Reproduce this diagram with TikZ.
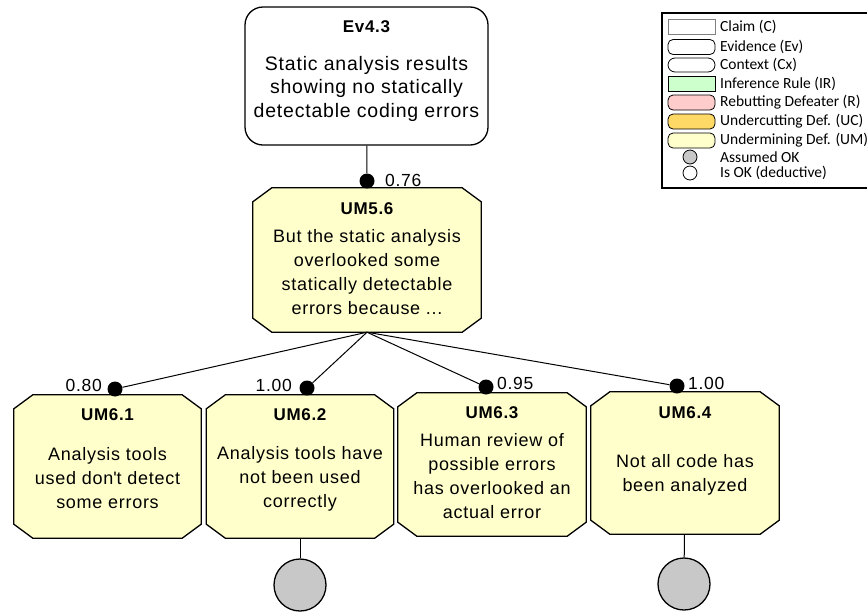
\documentclass[tikz,border=0pt]{standalone}
\usepackage{fontspec}
\setmainfont[LetterSpace=4]{Liberation Sans}
\newfontfamily\legendfont{Carlito}

\definecolor{umfill}{HTML}{FFFFCC}
\definecolor{ucfill}{HTML}{FFD966}
\definecolor{rfill}{HTML}{FFCCCC}
\definecolor{irfill}{HTML}{CCFFCC}
\definecolor{okgray}{HTML}{C8C8C8}

\tikzset{
  edge/.style={line width=1pt},
  evbox/.style={rectangle, rounded corners=18pt, draw, line width=1.3pt, fill=white,
    minimum width=243pt, minimum height=138pt},
  umbox/.style={rectangle, inner sep=0pt, minimum width=187pt, minimum height=143pt},
  umline/.style={draw, line width=1.3pt, fill=umfill, line join=miter},
  ttl/.style={font=\bfseries\fontsize{17}{20}\selectfont, inner sep=0pt},
  body/.style={font=\fontsize{18}{24}\selectfont, align=center, inner sep=0pt},
  num/.style={font=\fontsize{17.5}{20}\selectfont, inner sep=0pt},
  dot/.style={circle, fill=black, inner sep=0pt, minimum size=15pt},
  okdot/.style={circle, draw, line width=1.3pt, fill=okgray, minimum size=52pt},
  legtxt/.style={font=\legendfont\fontsize{15.5}{18}\selectfont, anchor=west, inner sep=0pt},
  legshape/.style={draw, line width=0.8pt, minimum width=47pt, minimum height=15pt, inner sep=0pt},
}

\begin{document}
\begin{tikzpicture}[x=1pt,y=-1pt]
\useasboundingbox (0,0) rectangle (867,611);

% evidence
\node[evbox] (ev43) at (366.5,76) {};
\node[ttl] (ev43t) at (366.5,27) {Ev4.3};
\node[body, font=\fontsize{19.5}{23.5}\selectfont] (ev43b) at (366.5,88.5)
  {Static analysis results\\showing no statically\\detectable coding errors};

% undermining defeaters (outline drawn from the anchors)
\node[umbox, minimum width=228pt, minimum height=144pt] (um56) at (367,260) {};
\node[umbox] (um61) at (107.5,466.5) {};
\node[umbox] (um62) at (300,466.5) {};
\node[umbox, minimum width=188pt] (um63) at (492,464.5) {};
\node[umbox, minimum width=188pt, minimum height=142pt] (um64) at (685,463) {};

\foreach \n in {um56,um61,um62,um63,um64}
{ \path[umline] ([xshift=19pt]\n.north west) -- ([xshift=-19pt]\n.north east)
    -- ([yshift=-14pt]\n.north east) -- ([yshift=14pt]\n.south east)
    -- ([xshift=-19pt]\n.south east) -- ([xshift=19pt]\n.south west)
    -- ([yshift=14pt]\n.south west) -- ([yshift=-14pt]\n.north west) -- cycle; }

\node[ttl] (um56t) at (367,209) {UM5.6};
\node[body] (um56b) at (367,272)
  {But the static analysis\\overlooked some\\statically detectable\\errors because ...};

\node[ttl] (um61t) at (107.5,415) {UM6.1};
\node[ttl] (um62t) at (300,415) {UM6.2};
\node[ttl] (um63t) at (492,413) {UM6.3};
\node[ttl] (um64t) at (685,413) {UM6.4};

\node[body] (um61b) at (107.5,478.5) {Analysis tools\\used don\textquotesingle t detect\\some errors};
\node[body] (um62b) at (300,478.5) {Analysis tools have\\not been used\\correctly};
\node[body] (um63b) at (492,476.5) {Human review of\\possible errors\\has overlooked an\\actual error};
\node[body] (um64b) at (685,474.5) {Not all code has\\been analyzed};

% support dots
\node[dot] (d0) at (367,181) {};
\node[dot] (d1) at (115,389) {};
\node[dot] (d2) at (307,388) {};
\node[dot] (d3) at (486,387) {};
\node[dot] (d4) at (677,386) {};

\draw[edge] (ev43) -- (d0);
\foreach \d in {d1,d2,d3,d4}
{ \draw[edge] (um56.south) -- (\d); }

\node[num, anchor=west] (l0) at (385,180) {0.76};
\node[num, anchor=east] (l1) at (102,385) {0.80};
\node[num, anchor=east] (l2) at (292,385) {1.00};
\node[num, anchor=west] (l3) at (497,383) {0.95};
\node[num, anchor=west] (l4) at (688,383) {1.00};

% assumed OK
\node[okdot] (ok62) at (300,585) {};
\node[okdot] (ok64) at (684,584) {};
\draw[edge] (um62) -- (ok62);
\draw[edge] (um64) -- (ok64);

% legend
\draw[line width=1.3pt] (662,13) rectangle (890,188);
\node[legshape, draw=gray] (lgc) at (691.5,27) {};
\node[legshape, rounded corners=5pt] (lgev) at (691.5,47) {};
\node[legshape, rounded corners=7pt, minimum height=14pt] (lgcx) at (691.5,65) {};
\node[legshape, fill=irfill] (lgir) at (691.5,83.5) {};
\node[legshape, rounded corners=5pt, fill=rfill] (lgr) at (691.5,102.5) {};
\node[legshape, rounded corners=5pt, fill=ucfill] (lguc) at (691.5,121.5) {};
\node[legshape, rounded corners=5pt, fill=umfill] (lgum) at (691.5,140.5) {};
\node[circle, draw, line width=0.8pt, fill=okgray, minimum size=14pt, inner sep=0pt] (lgok) at (690,157) {};
\node[circle, draw, line width=0.8pt, fill=white, minimum size=14pt, inner sep=0pt] (lgdd) at (690,173) {};

\foreach \y/\t in {27/Claim (C), 47/Evidence (Ev), 65/Context (Cx), 83.5/Inference Rule (IR),
  102.5/Rebutting Defeater (R), 121.5/Undercutting Def. (UC), 140.5/Undermining Def. (UM),
  157/Assumed OK, 173/Is OK (deductive)}
{ \node[legtxt] at (720,\y) {\t}; }

\end{tikzpicture}
\end{document}
